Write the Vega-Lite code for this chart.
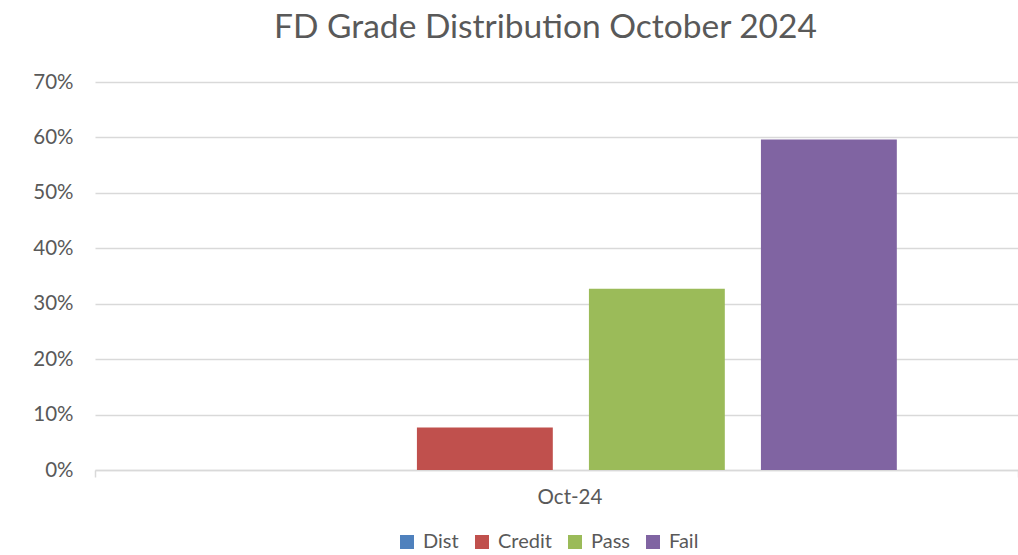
{
  "$schema": "https://vega.github.io/schema/vega-lite/v6.json",
  "autosize": "none",
  "width": 923,
  "height": 388,
  "padding": {"left": 95, "top": 82, "right": 0, "bottom": 85},
  "background": "white",
  "title": {
    "text": "FD Grade Distribution October 2024",
    "anchor": "middle",
    "font": "Lato",
    "fontSize": 33.5,
    "fontWeight": "normal",
    "color": "#595959",
    "dx": -11,
    "offset": 27
  },
  "data": {
    "values": [
      {"month": "Oct-24", "grade": "Dist", "share": 0},
      {"month": "Oct-24", "grade": "Credit", "share": 0.0769},
      {"month": "Oct-24", "grade": "Pass", "share": 0.3269},
      {"month": "Oct-24", "grade": "Fail", "share": 0.5962}
    ]
  },
  "mark": {"type": "bar"},
  "encoding": {
    "x": {
      "field": "month",
      "type": "nominal",
      "title": null,
      "scale": {"paddingInner": 0, "paddingOuter": 0},
      "axis": {
        "labelAngle": 0,
        "labelFont": "Lato",
        "labelFontSize": 20.5,
        "labelColor": "#595959",
        "domainColor": "#d9d9d9",
        "domainWidth": 1.5,
        "tickColor": "#d9d9d9",
        "tickWidth": 1.5,
        "tickSize": 7,
        "tickBand": "extent",
        "labelPadding": 10,
        "labelOffset": 13
      }
    },
    "xOffset": {
      "field": "grade",
      "type": "nominal",
      "sort": ["Dist", "Credit", "Pass", "Fail"],
      "scale": {"paddingInner": 0.21, "paddingOuter": 0.788, "align": 0.553}
    },
    "y": {
      "field": "share",
      "type": "quantitative",
      "title": null,
      "scale": {"domain": [0, 0.7], "nice": false},
      "axis": {
        "format": ".0%",
        "values": [0, 0.1, 0.2, 0.3, 0.4, 0.5, 0.6, 0.7],
        "labelOverlap": false,
        "labelFont": "Lato",
        "labelFontSize": 20.5,
        "labelColor": "#595959",
        "ticks": false,
        "domain": false,
        "labelPadding": 22,
        "gridColor": "#d9d9d9",
        "gridWidth": 1.5
      }
    },
    "color": {
      "field": "grade",
      "type": "nominal",
      "sort": ["Dist", "Credit", "Pass", "Fail"],
      "scale": {
        "domain": ["Dist", "Credit", "Pass", "Fail"],
        "range": ["#4F81BD", "#C0504D", "#9BBB59", "#8064A2"]
      },
      "legend": {
        "title": null,
        "orient": "none",
        "legendX": 302,
        "legendY": 450,
        "direction": "horizontal",
        "symbolType": "square",
        "symbolSize": 196,
        "symbolStrokeWidth": 0,
        "labelFont": "Lato",
        "labelFontSize": 20,
        "labelColor": "#595959",
        "columnPadding": 13,
        "labelOffset": 6
      }
    }
  },
  "config": {"view": {"stroke": null}}
}
